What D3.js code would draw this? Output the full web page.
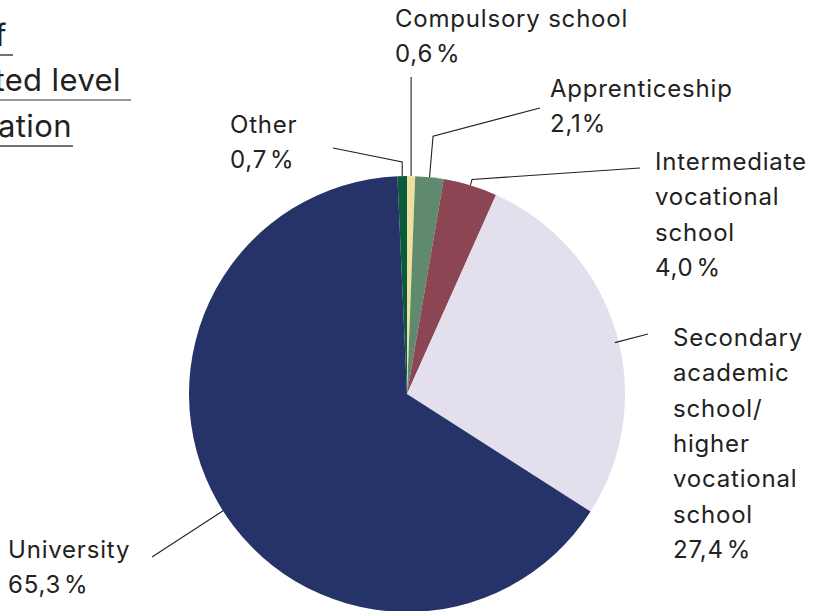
<!DOCTYPE html>
<html>
<head>
<meta charset="utf-8">
<script src="https://cdn.jsdelivr.net/npm/d3@7"></script>
<style>
  html, body { margin: 0; padding: 0; background: #fff; }
  svg { display: block; }
  text { font-family: "Inter", "Liberation Sans", sans-serif; fill: #222; }
</style>
</head>
<body>
<svg id="chart" width="823" height="611"></svg>
<script>
// Highest completed level of education, share in percent (clockwise from 12 o'clock)
const categories = [
  "Compulsory school",
  "Apprenticeship",
  "Intermediate vocational school",
  "Secondary academic school/ higher vocational school",
  "University",
  "Other"
];
const shares = [0.6, 2.1, 4.0, 27.4, 65.3, 0.7];
const shareLabels = ["0,6\u200A%", "2,1%", "4,0\u200A%", "27,4\u200A%", "65,3\u200A%", "0,7\u200A%"];
const labelLines = [
  ["Compulsory school"],
  ["Apprenticeship"],
  ["Intermediate", "vocational", "school"],
  ["Secondary", "academic", "school/", "higher", "vocational", "school"],
  ["University"],
  ["Other"]
];
const sliceColors = ["#efe0a0", "#5f8a6d", "#8b4553", "#e3dfed", "#263369", "#0b5a3b"];

const titleLines = ["Employees by type of", "highest completed level", "of education"];

// layout
const W = 823, H = 611;
const cx = 407, cy = 394, R = 218;
const lineH = 35.3;
const labelPos = [
  { x: 395, y: 27 },
  { x: 550, y: 97 },
  { x: 655, y: 170 },
  { x: 673, y: 346 },
  { x: 8,   y: 558 },
  { x: 230, y: 133 }
];
// leader lines: start point near the label, optional elbow offset from the arc point,
// optional nudge of the end point on the slice
const leaders = [
  { start: [null, 77], elbow: null, end: [0, 0] },
  { start: [540, 108], elbow: [3.5, -41], end: [0, 0] },
  { start: [640, 168], elbow: [1.6, -6], end: [0, 0] },
  { start: [648, 334], elbow: null, end: [-1, 11] },
  { start: [152, 557], elbow: null, end: [5, 8] },
  { start: [333, 148], elbow: [0, -14], end: [0, 0] }
];

const svg = d3.select("#chart");

const pie = d3.pie().sort(null).value(d => d).startAngle(0).endAngle(2 * Math.PI);
const arcs = pie(shares);
const arc = d3.arc().innerRadius(0).outerRadius(R);

const g = svg.append("g").attr("transform", `translate(${cx},${cy})`);
g.selectAll("path.slice")
  .data(arcs)
  .join("path")
  .attr("class", "slice")
  .attr("d", arc)
  .attr("fill", (d, i) => sliceColors[i]);

// leader lines
const edgePoint = d => {
  const a = (d.startAngle + d.endAngle) / 2;
  return [cx + R * Math.sin(a), cy - R * Math.cos(a)];
};
const lineGen = d3.line();
svg.append("g")
  .selectAll("path")
  .data(arcs)
  .join("path")
  .attr("fill", "none")
  .attr("stroke", "#222")
  .attr("stroke-width", 1.1)
  .attr("d", (d, i) => {
    const e = edgePoint(d);
    const L = leaders[i];
    const p = [e[0] + L.end[0], e[1] + L.end[1]];
    const s = [L.start[0] === null ? p[0] : L.start[0], L.start[1]];
    const pts = [s];
    if (L.elbow) pts.push([p[0] + L.elbow[0], p[1] + L.elbow[1]]);
    pts.push(p);
    return lineGen(pts);
  });

// labels
const lbl = svg.append("g")
  .selectAll("text")
  .data(categories)
  .join("text")
  .attr("x", (d, i) => labelPos[i].x)
  .attr("y", (d, i) => labelPos[i].y)
  .style("font-size", "24px")
  .style("letter-spacing", "0.8px");
lbl.each(function (d, i) {
  const t = d3.select(this);
  const lines = labelLines[i].concat([shareLabels[i]]);
  lines.forEach((s, k) => {
    t.append("tspan")
      .attr("x", labelPos[i].x)
      .attr("dy", k === 0 ? 0 : lineH)
      .text(s);
  });
});

// title, underlined lines
const titleRight = [7, 121, 72];
const underlineRight = [13, 131, 73];
const titleBase = [46, 91, 137];
const underlineY = [55, 100, 146];
const tg = svg.append("g");
titleLines.forEach((s, i) => {
  tg.append("text")
    .attr("x", titleRight[i])
    .attr("y", titleBase[i])
    .attr("text-anchor", "end")
    .style("font-size", "31px")
    .style("letter-spacing", "0.4px")
    .text(s);
  tg.append("line")
    .attr("x1", -400).attr("x2", underlineRight[i])
    .attr("y1", underlineY[i]).attr("y2", underlineY[i])
    .attr("stroke", i === 1 ? "#777" : "#444")
    .attr("stroke-width", 1.3);
});
</script>
</body>
</html>
